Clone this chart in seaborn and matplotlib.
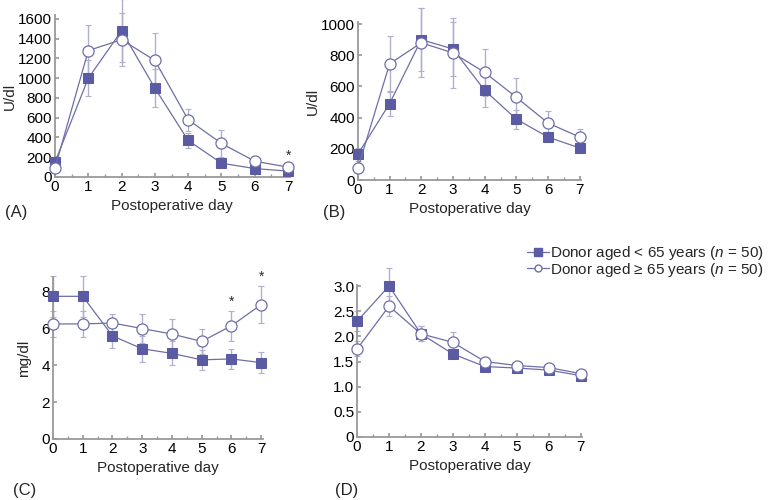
import matplotlib
matplotlib.use("Agg")
import matplotlib.pyplot as plt
from matplotlib.ticker import MultipleLocator, FuncFormatter
from matplotlib.lines import Line2D
import seaborn as sns
import pandas as pd

days = [0, 1, 2, 3, 4, 5, 6, 7]

# (A) U/dl
a_young = [150, 1000, 1480, 900, 370, 140, 85, 60]
a_young_err = [50, 180, 320, 190, 80, 30, 20, 15]
a_old = [90, 1280, 1390, 1180, 580, 340, 160, 100]
a_old_err = [40, 260, 270, 280, 110, 140, 30, 20]

# (B) U/dl
b_young = [165, 490, 900, 840, 575, 390, 275, 205]
b_young_err = [40, 80, 200, 170, 105, 60, 30, 20]
b_old = [75, 745, 880, 815, 690, 530, 365, 275]
b_old_err = [30, 180, 220, 225, 150, 125, 75, 50]

# (C) mg/dl
c_young = [7.75, 7.75, 5.6, 4.9, 4.65, 4.3, 4.35, 4.15]
c_young_err = [1.1, 1.1, 0.65, 0.7, 0.65, 0.55, 0.55, 0.55]
c_old = [6.25, 6.25, 6.3, 6.0, 5.7, 5.3, 6.15, 7.3]
c_old_err = [0.7, 0.7, 0.5, 0.8, 0.8, 0.7, 0.8, 1.0]

# (D)
d_young = [2.3, 3.0, 2.05, 1.65, 1.4, 1.37, 1.33, 1.22]
d_young_err = [0.2, 0.35, 0.15, 0.08, 0.06, 0.05, 0.04, 0.03]
d_old = [1.75, 2.6, 2.05, 1.88, 1.5, 1.42, 1.38, 1.26]
d_old_err = [0.15, 0.2, 0.15, 0.2, 0.08, 0.06, 0.06, 0.04]

label_young = "Donor aged < 65 years ($\\it{n}$ = 50)"
label_old = "Donor aged \u2265 65 years ($\\it{n}$ = 50)"

line_col = "#6e6ea8"
fill_col = "#5b5ba3"
err_col = "#b0b0cc"
spine_col = "#9a9a9a"
fs = 11

sns.set_theme(style="ticks")
plt.rcParams["font.family"] = ["Liberation Sans", "DejaVu Sans"]
plt.rcParams["mathtext.fontset"] = "custom"
plt.rcParams["mathtext.it"] = "Liberation Sans:italic"
plt.rcParams["mathtext.rm"] = "Liberation Sans"


def tick_fmt(decimals):
    # zero is written as plain "0" on every panel
    def f(v, pos):
        if abs(v) < 1e-9:
            return "0"
        return f"{v:.{decimals}f}"
    return FuncFormatter(f)


def draw_panel(ax, young, young_err, old, old_err, ylim, ystep, ylabel, decimals, stars,
               ypad=1):
    df = pd.DataFrame({"day": days * 2,
                       "value": young + old,
                       "group": ["young"] * 8 + ["old"] * 8})
    ax.errorbar(days, old, yerr=old_err, fmt="none", ecolor=err_col,
                elinewidth=1.0, capsize=2, capthick=0.8, clip_on=False, zorder=1)
    ax.errorbar(days, young, yerr=young_err, fmt="none", ecolor=err_col,
                elinewidth=1.0, capsize=2, capthick=0.8, clip_on=False, zorder=1)
    sns.lineplot(data=df[df.group == "young"], x="day", y="value", ax=ax,
                 color=line_col, marker="s", markersize=7, markerfacecolor=fill_col,
                 markeredgecolor=fill_col, linewidth=0.9, clip_on=False, zorder=3)
    sns.lineplot(data=df[df.group == "old"], x="day", y="value", ax=ax,
                 color=line_col, marker="o", markersize=8, markerfacecolor="white",
                 markeredgecolor=line_col, markeredgewidth=0.9, linewidth=0.9,
                 clip_on=False, zorder=4)
    for d in stars:
        top = old[d] + old_err[d]
        ax.text(d, top + (ylim[1] - ylim[0]) * 0.015, "*", ha="center",
                va="bottom", fontsize=10)
    ax.set_xlim(0, 7.05)
    ax.set_ylim(*ylim)
    ax.xaxis.set_major_locator(MultipleLocator(1))
    ax.xaxis.set_minor_locator(MultipleLocator(0.5))
    ax.yaxis.set_major_locator(MultipleLocator(ystep))
    ax.yaxis.set_major_formatter(tick_fmt(decimals))
    ax.tick_params(axis="both", which="both", direction="in", colors=spine_col,
                   labelcolor="black", labelsize=fs, pad=2)
    ax.tick_params(axis="both", which="major", length=3)
    ax.tick_params(axis="both", which="minor", length=2)
    for s in ["top", "right"]:
        ax.spines[s].set_visible(False)
    for s in ["left", "bottom"]:
        ax.spines[s].set_color(spine_col)
        ax.spines[s].set_linewidth(1.3)
    ax.set_xlabel("Postoperative day", fontsize=fs, labelpad=4)
    ax.set_ylabel(ylabel, fontsize=fs, labelpad=ypad)


fig = plt.figure(figsize=(7.68, 5.0), dpi=100)
ax_a = fig.add_axes([0.0716, 0.646, 0.3056, 0.324])
ax_b = fig.add_axes([0.466, 0.640, 0.291, 0.315])
ax_c = fig.add_axes([0.069, 0.122, 0.273, 0.324])
ax_d = fig.add_axes([0.465, 0.126, 0.293, 0.304])

draw_panel(ax_a, a_young, a_young_err, a_old, a_old_err, (0, 1640), 200, "U/dl", 0, [7])
draw_panel(ax_b, b_young, b_young_err, b_old, b_old_err, (0, 1010), 200, "U/dl", 0, [])
draw_panel(ax_c, c_young, c_young_err, c_old, c_old_err, (0, 8.8), 2, "mg/dl", 0, [6, 7],
           ypad=8)
draw_panel(ax_d, d_young, d_young_err, d_old, d_old_err, (0, 3.02), 0.5, "", 1, [])

for txt, x, y in [("(A)", 0.006, 0.576), ("(B)", 0.420, 0.576),
                  ("(C)", 0.017, 0.02), ("(D)", 0.436, 0.02)]:
    fig.text(x, y, txt, fontsize=12, ha="left", va="center")

handles = [
    Line2D([], [], color=line_col, marker="s", markersize=5.5, markerfacecolor=fill_col,
           markeredgecolor=fill_col, linewidth=0.9),
    Line2D([], [], color=line_col, marker="o", markersize=5, markerfacecolor="white",
           markeredgecolor=line_col, linewidth=0.9),
]
fig.legend(handles, [label_young, label_old], loc="upper right",
           bbox_to_anchor=(1.006, 0.53), frameon=False, fontsize=11,
           handlelength=1.4, handletextpad=0.05, labelspacing=-0.1, borderpad=0.1)

fig.savefig("out.png", dpi=100)
